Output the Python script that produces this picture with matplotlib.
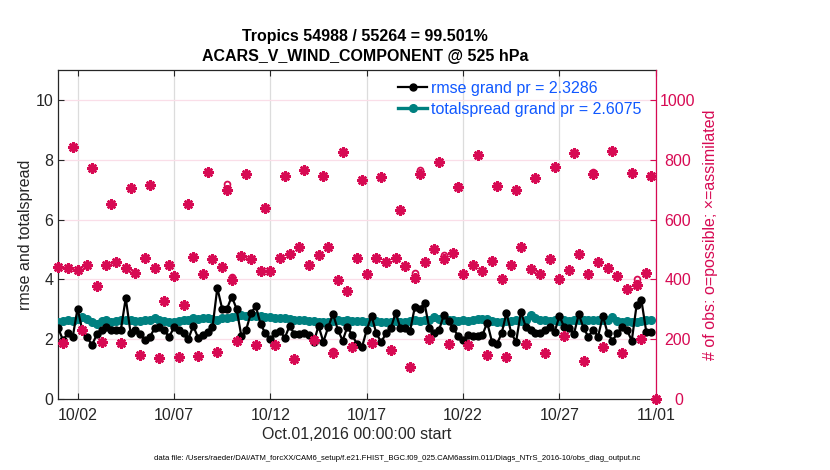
import numpy as np
import pandas as pd
import matplotlib
matplotlib.use("Agg")
import matplotlib.pyplot as plt
import matplotlib.dates as mdates

plt.rcParams['font.family'] = ['Liberation Sans', 'DejaVu Sans']

# ---------------- data ----------------
start = "2016-10-01 00:00"
n_bins = 125  # 6-hourly bins from Oct 01 00Z to Nov 01 00Z

rmse = [2.37, 1.97, 2.22, 2.08, 3.03, 2.30, 2.07, 1.81, 2.17, 2.32,
        2.40, 2.30, 2.33, 2.33, 3.38, 2.22, 2.33, 2.18, 1.98, 2.08,
        2.37, 2.41, 2.31, 2.08, 2.40, 2.31, 2.20, 2.02, 2.45, 2.06,
        2.16, 2.24, 2.40, 3.72, 3.03, 3.02, 3.43, 3.02, 2.10, 2.33,
        2.89, 3.10, 2.50, 2.20, 2.02, 2.20, 2.29, 2.05, 2.45, 2.18,
        2.17, 2.22, 2.16, 1.90, 2.45, 1.92, 2.40, 2.85, 2.33, 1.96,
        2.42, 2.14, 1.84, 1.73, 2.31, 2.79, 2.20, 1.91, 2.20, 2.37,
        2.89, 2.37, 2.37, 2.29, 3.09, 3.03, 3.20, 2.37, 2.20, 2.31,
        2.81, 2.60, 2.37, 2.10, 1.98, 2.14, 2.11, 2.11, 2.14, 2.56,
        1.92, 1.84, 2.20, 2.89, 2.20, 1.92, 2.92, 2.42, 2.33, 2.22,
        2.20, 2.31, 2.42, 2.26, 2.78, 2.40, 2.37, 2.18, 2.84, 2.37,
        2.09, 2.33, 2.09, 2.78, 2.20, 1.96, 2.20, 2.42, 2.31, 1.96,
        3.14, 3.31, 2.26, 2.26, np.nan]

spread = [2.59, 2.61, 2.64, 2.63, 2.67, 2.76, 2.67, 2.59, 2.53, 2.61,
          2.64, 2.59, 2.62, 2.64, 2.66, 2.64, 2.63, 2.62, 2.64, 2.66,
          2.70, 2.66, 2.60, 2.59, 2.59, 2.62, 2.64, 2.66, 2.70, 2.69,
          2.71, 2.70, 2.68, 2.66, 2.70, 2.72, 2.74, 2.78, 2.81, 2.78,
          2.77, 2.78, 2.77, 2.76, 2.76, 2.72, 2.70, 2.70, 2.69, 2.66,
          2.64, 2.64, 2.63, 2.60, 2.59, 2.58, 2.59, 2.62, 2.64, 2.63,
          2.64, 2.62, 2.63, 2.60, 2.59, 2.58, 2.60, 2.59, 2.57, 2.59,
          2.60, 2.58, 2.59, 2.60, 2.64, 2.63, 2.65, 2.66, 2.76, 2.67,
          2.66, 2.65, 2.64, 2.63, 2.64, 2.63, 2.64, 2.68, 2.69, 2.67,
          2.60, 2.59, 2.58, 2.60, 2.63, 2.64, 2.63, 2.64, 2.81, 2.70,
          2.66, 2.64, 2.63, 2.64, 2.63, 2.64, 2.63, 2.65, 2.64, 2.64,
          2.66, 2.65, 2.66, 2.65, 2.64, 2.76, 2.62, 2.59, 2.60, 2.58,
          2.59, 2.63, 2.64, 2.64, np.nan]

nused = [442, 187, 440, 842, 431, 231, 450, 773, 378, 191,
         447, 651, 458, 189, 438, 707, 420, 147, 471, 714,
         438, 137, 329, 448, 411, 140, 316, 653, 476, 144,
         418, 759, 469, 158, 442, 698, 398, 193, 478, 751,
         470, 182, 428, 637, 427, 180, 471, 744, 484, 134,
         509, 764, 447, 198, 482, 744, 507, 153, 398, 824,
         361, 173, 471, 731, 418, 189, 473, 742, 459, 164,
         473, 631, 444, 109, 406, 751, 458, 200, 502, 793,
         467, 184, 489, 709, 418, 181, 448, 814, 428, 148,
         462, 711, 402, 140, 448, 700, 507, 184, 436, 740,
         418, 156, 469, 776, 402, 211, 431, 822, 484, 128,
         417, 753, 457, 173, 440, 828, 411, 156, 367, 757,
         381, 200, 420, 744, 0]

nposs = list(nused)
for idx, val in [(35, 718), (36, 409), (57, 162), (74, 420), (75, 764),
                 (80, 481), (83, 712), (111, 759), (120, 400)]:
    nposs[idx] = val

rmse_label = "rmse grand pr = 2.3286"
spread_label = "totalspread grand pr = 2.6075"
title_lines = ["Tropics 54988 / 55264 = 99.501%",
               "ACARS_V_WIND_COMPONENT @ 525 hPa"]
tick_dates = ["2016-10-02", "2016-10-07", "2016-10-12", "2016-10-17",
              "2016-10-22", "2016-10-27", "2016-11-01"]
left_ticks = [0, 2, 4, 6, 8, 10]
right_ticks = [0, 200, 400, 600, 800, 1000]

# ---------------- styling ----------------
obs_color = (215/255, 10/255, 83/255)
spread_color = (0, 128/255, 128/255)
axis_color = "#262626"
legend_color = "#1058ff"

times = pd.date_range(start, periods=n_bins, freq="6h")

fig = plt.figure(figsize=(8.3, 4.7), dpi=100)
ax = fig.add_axes([0.0702, 0.1504, 0.7200, 0.7011])

ax.set_xlim(pd.Timestamp("2016-10-01"), pd.Timestamp("2016-11-01"))
ax.set_ylim(0, 11)

# grid lines
for t in tick_dates:
    ax.axvline(pd.Timestamp(t), color="#dcdcdc", lw=0.9, zorder=0)
for v in left_ticks[1:]:
    ax.axhline(v, color=(0.98, 0.87, 0.91), lw=0.9, zorder=0)

l1, = ax.plot(times, spread, color=spread_color, lw=2.4, marker="o", ms=5.5,
              mec=spread_color, mfc=spread_color, zorder=3, label=spread_label)
l0, = ax.plot(times, rmse, color="black", lw=1.6, marker="o", ms=5,
              zorder=4, label=rmse_label)

ax.set_xticks([pd.Timestamp(t) for t in tick_dates])
ax.xaxis.set_major_formatter(mdates.DateFormatter("%m/%d"))
ax.set_yticks(left_ticks)
ax.tick_params(axis="both", direction="in", length=4, colors=axis_color,
               labelsize=11.5, top=True, right=False)
ax.tick_params(axis="x", pad=6)
for s in ["left", "bottom", "top"]:
    ax.spines[s].set_color(axis_color)
    ax.spines[s].set_linewidth(0.9)
ax.spines["right"].set_visible(False)

ax.set_ylabel("rmse and totalspread", fontsize=11.5, color=axis_color, labelpad=2)
ax.set_xlabel("Oct.01,2016 00:00:00 start", fontsize=11.5, color=axis_color,
              labelpad=3)

leg = ax.legend(handles=[l0, l1], loc="upper left", bbox_to_anchor=(0.553, 0.995),
                frameon=False, fontsize=11.5, handlelength=1.8, handletextpad=0.25,
                labelspacing=0.35, borderaxespad=0.2, numpoints=1,
                labelcolor=legend_color)

# right axis for observation counts
ax2 = ax.twinx()
ax2.set_ylim(0, 1100)
ax2.plot(times, nposs, linestyle="none", marker="o", ms=4.2, mfc="none",
         mec=obs_color, mew=1.3, clip_on=False, zorder=5)
ax2.plot(times, nused, linestyle="none", marker=(8, 2, 0), ms=7.5,
         mec=obs_color, mew=1.8, clip_on=False, zorder=6)
ax2.set_yticks(right_ticks)
ax2.tick_params(axis="y", direction="in", length=4, colors=obs_color,
                labelsize=11.5)
pads = [13.5, 6.0, 6.0, 6.0, 6.0, 2.5]
for tk, p in zip(ax2.yaxis.get_major_ticks(), pads):
    tk.set_pad(p)
ax2.spines["right"].set_color(obs_color)
ax2.spines["right"].set_linewidth(0.9)
for s in ["left", "bottom", "top"]:
    ax2.spines[s].set_visible(False)
ax2.set_ylabel("# of obs: o=possible; ×=assimilated", fontsize=11.5,
               color=obs_color, labelpad=6)

fig.text(0.44, 1 - 37/470, title_lines[0], ha="center", va="center",
         fontsize=11.5, fontweight="bold", color="black")
fig.text(0.44, 1 - 57/470, title_lines[1], ha="center", va="center",
         fontsize=11.5, fontweight="bold", color="black")

fig.text(397/830, 1 - 458/470,
         "data file: /Users/raeder/DAI/ATM_forcXX/CAM6_setup/f.e21.FHIST_BGC.f09_025.CAM6assim.011/Diags_NTrS_2016-10/obs_diag_output.nc",
         ha="center", va="center", fontsize=5.6, color="black")

fig.savefig("out.png", dpi=100)
